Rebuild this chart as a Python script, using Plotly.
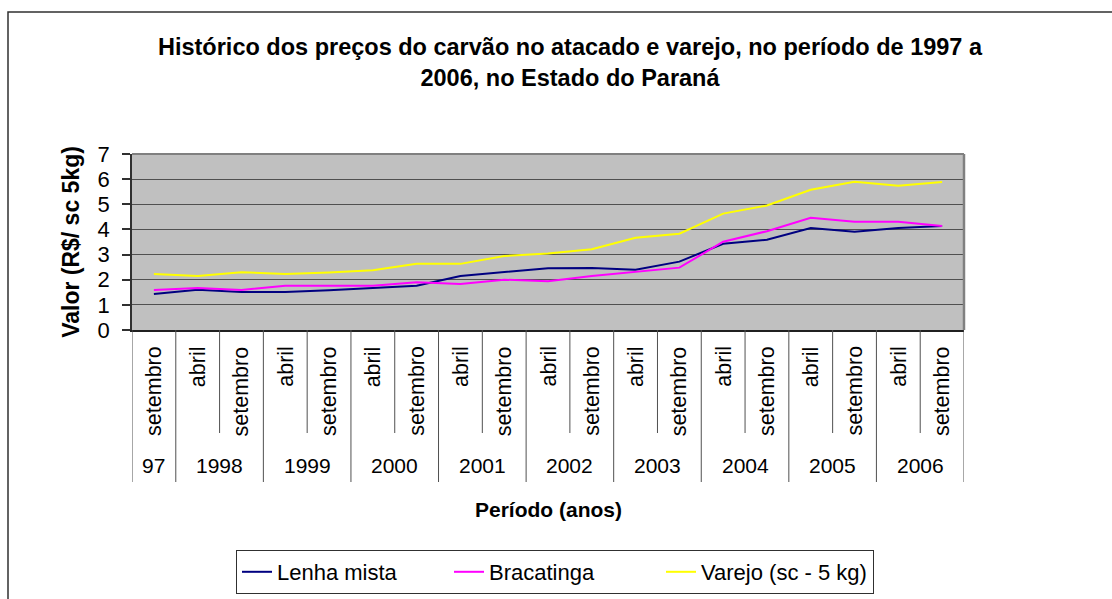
import plotly.graph_objects as go

# ---- data ----
categoria_ano = ["97", "1998", "1998", "1999", "1999", "2000", "2000", "2001", "2001",
                 "2002", "2002", "2003", "2003", "2004", "2004", "2005", "2005", "2006", "2006"]
categoria_mes = ["setembro", "abril", "setembro", "abril", "setembro", "abril", "setembro",
                 "abril", "setembro", "abril", "setembro", "abril", "setembro", "abril",
                 "setembro", "abril", "setembro", "abril", "setembro"]
lenha_mista = [1.43, 1.60, 1.51, 1.51, 1.58, 1.68, 1.76, 2.15, 2.31, 2.46,
               2.47, 2.40, 2.72, 3.43, 3.59, 4.06, 3.91, 4.06, 4.14]
bracatinga = [1.59, 1.67, 1.59, 1.76, 1.76, 1.76, 1.90, 1.83, 2.00, 1.94,
              2.15, 2.32, 2.48, 3.51, 3.93, 4.46, 4.31, 4.31, 4.14]
varejo = [2.23, 2.15, 2.30, 2.23, 2.29, 2.38, 2.63, 2.63, 2.94, 3.04,
          3.21, 3.67, 3.83, 4.63, 4.95, 5.58, 5.90, 5.74, 5.89]
y_ticks = [0, 1, 2, 3, 4, 5, 6, 7]

FONT = "Liberation Sans, Arial, sans-serif"
W, H = 1112, 599
L, R, T, B = 132, 148, 154, 269
PW, PH = W - L - R, H - T - B


def px(xp):
    return (xp - L) / PW


def py(yp):
    return (H - B - yp) / PH


idx = list(range(len(categoria_mes)))

fig = go.Figure()
series = [("Lenha mista", lenha_mista, "#000080"),
          ("Bracatinga", bracatinga, "#FF00FF"),
          ("Varejo (sc - 5 kg)", varejo, "#FFFF00")]
for name, vals, col in series:
    fig.add_trace(go.Scatter(x=idx, y=vals, mode="lines", name=name,
                             line=dict(color=col, width=2)))

shapes = []
annotations = []

# category dividers below the axis
n = len(idx)
for k in range(n + 1):
    left_year = categoria_ano[k - 1] if k > 0 else None
    right_year = categoria_ano[k] if k < n else None
    long_line = left_year != right_year
    y_end = py(482) if long_line else py(433)
    shapes.append(dict(type="line", xref="x", yref="paper", x0=k - 0.5, x1=k - 0.5,
                       y0=0, y1=y_end, line=dict(color="#505050", width=1)))

# month labels
for i, m in zip(idx, categoria_mes):
    annotations.append(dict(x=i, y=py(344), xref="x", yref="paper", text=m,
                            textangle=-90, showarrow=False, yanchor="top",
                            xanchor="center",
                            font=dict(family=FONT, size=21.5, color="black")))

# year labels
anos = []
for a in categoria_ano:
    if a not in anos:
        anos.append(a)
for a in anos:
    pos = [i for i in idx if categoria_ano[i] == a]
    annotations.append(dict(x=sum(pos) / len(pos), y=py(465), xref="x", yref="paper",
                            text=a, showarrow=False, yanchor="middle", xanchor="center",
                            font=dict(family=FONT, size=21, color="black")))

# x axis title
annotations.append(dict(x=0.5, y=py(509), xref="paper", yref="paper",
                        text="<b>Período (anos)</b>", showarrow=False,
                        yanchor="middle", xanchor="center",
                        font=dict(family=FONT, size=21, color="black")))

# plot frame (top & right gray)
shapes.append(dict(type="line", xref="paper", yref="paper", x0=0, x1=1, y0=1, y1=1,
                   line=dict(color="#808080", width=2), layer="above"))
shapes.append(dict(type="line", xref="paper", yref="paper", x0=1, x1=1, y0=0, y1=1,
                   line=dict(color="#808080", width=2.5), layer="above"))
# outer chart frame
shapes.append(dict(type="rect", xref="paper", yref="paper", x0=px(8), x1=px(1130),
                   y0=py(620), y1=py(12), line=dict(color="#303030", width=1.5),
                   layer="below"))

fig.update_layout(
    width=W, height=H,
    margin=dict(l=L, r=R, t=T, b=B, pad=0, autoexpand=False),
    paper_bgcolor="white", plot_bgcolor="#C0C0C0",
    font=dict(family=FONT, color="black"),
    title=dict(text="<b>Histórico dos preços do carvão no atacado e varejo, no período de 1997 a<br>2006, no Estado do Paraná</b>",
               x=570 / W, xanchor="center", y=1 - 55 / H, yanchor="middle",
               font=dict(family=FONT, size=23.5, color="black")),
    xaxis=dict(range=[-0.5, n - 0.5], showgrid=False, zeroline=False,
               showticklabels=False, ticks="", showline=True,
               linecolor="#202020", linewidth=2),
    yaxis=dict(range=[0, 7], tickvals=y_ticks, showgrid=True, gridcolor="#505050",
               gridwidth=1.3, zeroline=False, showline=True, linecolor="#303030",
               linewidth=1.5, ticks="outside", ticklen=8, tickcolor="#303030",
               tickwidth=1.5, ticklabelstandoff=8,
               tickfont=dict(family=FONT, size=22, color="black"),
               title=dict(text="<b>Valor (R$/ sc 5kg)</b>", standoff=12,
                          font=dict(family=FONT, size=23, color="black"))),
    legend=dict(orientation="h", x=px(236), y=py(550), xanchor="left", yanchor="top",
                bordercolor="#303030", borderwidth=1, bgcolor="white",
                entrywidth=167, entrywidthmode="pixels",
                font=dict(family=FONT, size=22, color="black")),
    shapes=shapes, annotations=annotations,
)

fig.write_html("out.html", config={"displayModeBar": False},
               post_script="document.body.style.margin='0';")
